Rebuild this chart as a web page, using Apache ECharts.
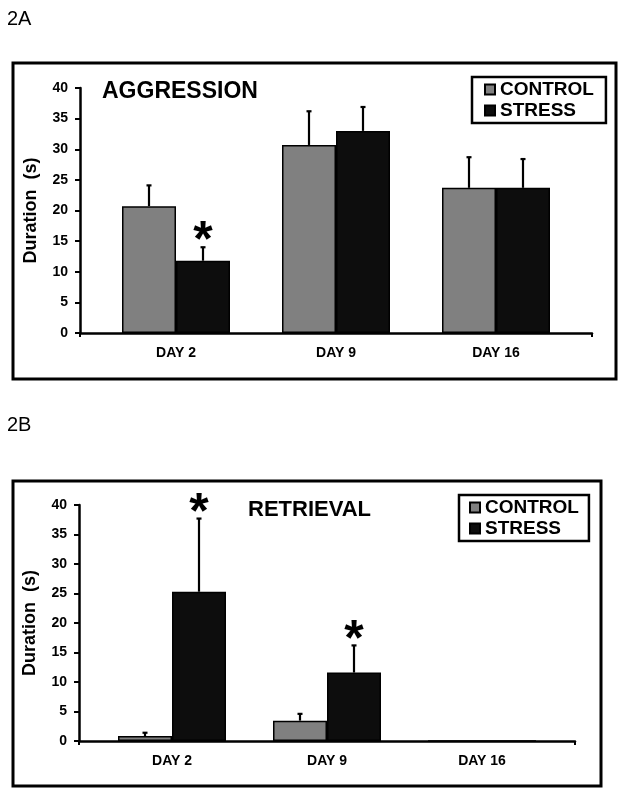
<!DOCTYPE html>
<html>
<head>
<meta charset="utf-8">
<script src="https://cdn.jsdelivr.net/npm/echarts@6/dist/echarts.min.js"></script>
<style>html,body{margin:0;padding:0;background:#fff;}#c{width:629px;height:799px;}</style>
</head>
<body>
<div id="c"></div>
<script>
// ---- data ----
const categories = ['DAY 2', 'DAY 9', 'DAY 16'];
const seriesNames = ['CONTROL', 'STRESS'];
const yTicks = { min: 0, max: 40, interval: 5 };

const aggControl    = [20.7, 30.7, 23.7];
const aggControlErr = [3.4, 5.5, 5.0];
const aggStress     = [11.8, 33.0, 23.7];
const aggStressErr  = [2.2, 3.9, 4.7];
const aggSig        = [false, false, false, true, false, false]; // [control..., stress...]

const retControl    = [0.85, 3.45, 0];
const retControlErr = [0.55, 1.15, 0];
const retStress     = [25.3, 11.6, 0];
const retStressErr  = [12.4, 4.6, 0];
const retSig        = [false, false, false, true, true, false];

// ---- styles ----
const FONT = '"Liberation Sans", Arial, sans-serif';
const GRAY = '#808080';
const BLACK = '#0d0d0d';
const BAR_W = 54;
const STAR_GAP = 2.6; // value units between error top and asterisk centre

function pts(vals){ return vals.map((v,i)=>[i+1, v]); }
function errData(ctrl, ctrlErr, str, strErr, sig){
  const out = [];
  ctrl.forEach((v,i)=>out.push([i+1, v, ctrlErr[i], -1, sig[i]?1:0]));
  str.forEach((v,i)=>out.push([i+1, v, strErr[i], 1, sig[i+ctrl.length]?1:0]));
  return out;
}
function errRender(params, api){
  const x = api.value(0), y = api.value(1), e = api.value(2), side = api.value(3), sig = api.value(4);
  const base = api.coord([x, y]);
  const top = api.coord([x, y + e]);
  const cx = base[0] + side * BAR_W / 2;
  const children = [];
  if (e > 0) {
    children.push({type:'line', shape:{x1:cx, y1:base[1], x2:cx, y2:top[1]}, style:{stroke:'#000', lineWidth:2.2}});
    children.push({type:'line', shape:{x1:cx-2.5, y1:top[1], x2:cx+2.5, y2:top[1]}, style:{stroke:'#000', lineWidth:2.2}});
  }
  if (sig) {
    const star = api.coord([x, y + e + STAR_GAP]);
    children.push({type:'text', style:{text:'*', x:cx, y:star[1] + 11, align:'center', verticalAlign:'middle',
      font:'bold 50px ' + FONT, fill:'#000'}});
  }
  return {type:'group', children};
}

function xAxisCfg(gi){
  return {
    gridIndex: gi, type: 'value', min: 0.4, max: 3.6,
    axisLine: {lineStyle:{color:'#000', width:2.5}},
    axisTick: {show:true, customValues:[0.4, 3.6], length:4, lineStyle:{color:'#000', width:2}},
    splitLine: {show:false},
    axisLabel: {customValues:[1,2,3], formatter: v => categories[Math.round(v)-1] || '',
      color:'#000', fontFamily: FONT, fontWeight:'bold', fontSize:14, margin:13}
  };
}
function yAxisCfg(gi){
  return {
    gridIndex: gi, type:'value', min: yTicks.min, max: yTicks.max, interval: yTicks.interval,
    name: 'Duration  (s)', nameLocation:'middle', nameRotate:90, nameGap:40,
    nameTextStyle:{color:'#000', fontFamily:FONT, fontWeight:'bold', fontSize:18},
    axisLine:{show:true, lineStyle:{color:'#000', width:2.5}},
    axisTick:{show:true, inside:false, length:5, lineStyle:{color:'#000', width:2}},
    splitLine:{show:false},
    axisLabel:{color:'#000', fontFamily:FONT, fontWeight:'bold', fontSize:14, margin:12}
  };
}
const barStyle = c => ({color:c, borderColor:'#000', borderWidth:1.5});
const legendText = {fontFamily:FONT, fontWeight:'bold', fontSize:19, color:'#000'};

const chart = echarts.init(document.getElementById('c'), null, {renderer:'canvas'});
chart.setOption({
  animation:false,
  backgroundColor:'#fff',
  title:[
    {text:'2A', left:7, top:9, padding:0, textStyle:{fontFamily:FONT, fontWeight:'normal', fontSize:20, color:'#000'}},
    {text:'2B', left:7, top:415, padding:0, textStyle:{fontFamily:FONT, fontWeight:'normal', fontSize:20, color:'#000'}},
    {text:'AGGRESSION', left:102, top:80, padding:0, textStyle:{fontFamily:FONT, fontWeight:'bold', fontSize:23, color:'#000'}},
    {text:'RETRIEVAL', left:248, top:499, padding:0, textStyle:{fontFamily:FONT, fontWeight:'bold', fontSize:22, color:'#000'}}
  ],
  graphic:[
    {type:'rect', shape:{x:13, y:63, width:603, height:316}, style:{fill:null, stroke:'#000', lineWidth:3}, z:0},
    {type:'rect', shape:{x:13, y:481, width:588, height:305}, style:{fill:null, stroke:'#000', lineWidth:3}, z:0}
  ],
  legend:[
    {data:seriesNames, left:472, top:77, orient:'vertical', icon:'rect', itemWidth:10, itemHeight:10, itemGap:2,
     padding:[3,12,3,12], borderColor:'#000', borderWidth:2.5, textStyle:legendText},
    {data:seriesNames.map(n=>n+' '), left:459, top:495, orient:'vertical', icon:'rect', itemWidth:10, itemHeight:10, itemGap:2,
     padding:[3,10,3,10], borderColor:'#000', borderWidth:2.5,
     formatter: n => n.trim(), textStyle:legendText}
  ],
  grid:[
    {left:80, right:37, top:88, bottom:466},
    {left:79, right:54, top:505, bottom:58}
  ],
  xAxis:[xAxisCfg(0), xAxisCfg(1)],
  yAxis:[yAxisCfg(0), yAxisCfg(1)],
  series:[
    {name:seriesNames[0], type:'bar', xAxisIndex:0, yAxisIndex:0, data:pts(aggControl), barWidth:BAR_W, barGap:'0%', itemStyle:barStyle(GRAY)},
    {name:seriesNames[1], type:'bar', xAxisIndex:0, yAxisIndex:0, data:pts(aggStress), barWidth:BAR_W, barGap:'0%', itemStyle:barStyle(BLACK)},
    {type:'custom', xAxisIndex:0, yAxisIndex:0, data:errData(aggControl, aggControlErr, aggStress, aggStressErr, aggSig), renderItem:errRender, z:5, silent:true},
    {name:seriesNames[0]+' ', type:'bar', xAxisIndex:1, yAxisIndex:1, data:pts(retControl), barWidth:BAR_W, barGap:'0%', itemStyle:barStyle(GRAY)},
    {name:seriesNames[1]+' ', type:'bar', xAxisIndex:1, yAxisIndex:1, data:pts(retStress), barWidth:BAR_W, barGap:'0%', itemStyle:barStyle(BLACK)},
    {type:'custom', xAxisIndex:1, yAxisIndex:1, data:errData(retControl, retControlErr, retStress, retStressErr, retSig), renderItem:errRender, z:5, silent:true}
  ]
});
</script>
</body>
</html>
